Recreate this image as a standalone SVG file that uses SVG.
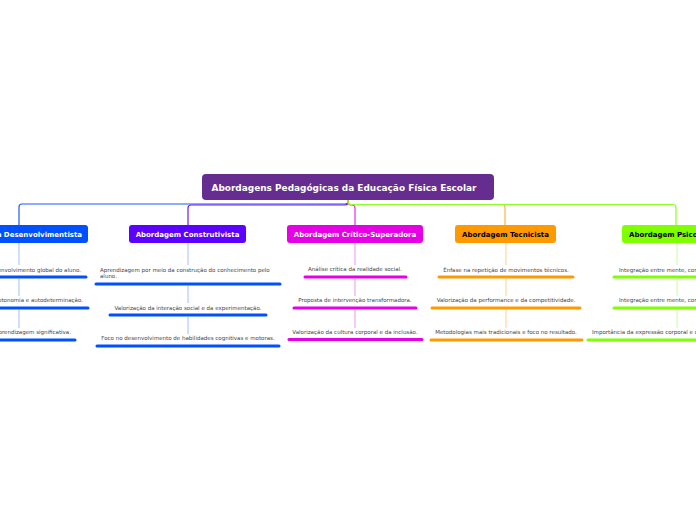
<svg xmlns="http://www.w3.org/2000/svg" width="696" height="520" viewBox="0 0 696 520">
<style>
.root{fill:#662d91}
.rt{font-family:"DejaVu Sans",Verdana,sans-serif;font-weight:bold;font-size:8.95px;fill:#fff}
.mt{font-family:"DejaVu Sans",Verdana,sans-serif;font-weight:bold;font-size:7px}
.st{font-family:"DejaVu Sans",Verdana,sans-serif;font-size:5.5px;fill:#444}
.ul{stroke-width:3;stroke-linecap:round;fill:none}
.cn{fill:none;stroke-width:1.2}
.vc{fill:none;stroke-width:1.2}
</style>
<rect width="696" height="520" fill="#fff"/>
<g id="connectors">
<path class="cn" stroke="#1f5bff" d="M348,199 V201.5 Q348,204 345,204 H22 Q19,204 19,207 V225"/>
<path class="cn" stroke="#6a1cff" d="M348,199 V202 Q348,205 345,205 H191 Q188,205 188,208 V225"/>
<path class="cn" stroke="#e62ee6" d="M348,199 V202 Q348,205 351,205 H352 Q355,205 355,208 V225"/>
<path class="cn" stroke="#ffb347" d="M348,199 V201.5 Q348,204.5 351,204.5 H502 Q505,204.5 505,207.5 V225"/>
<path class="cn" stroke="#8cff26" d="M348,199 V201.5 Q348,204.5 351,204.5 H673 Q676,204.5 676,207.5 V225"/>
<g stroke="#b3c9ff" class="vc">
<path d="M19,243 V265 M19,279 V296 M19,310 V328"/>
<path d="M188,243 V265 M188,286 V303 M188,317 V334"/>
</g>
<g stroke="#f2a6f2" class="vc"><path d="M355,243 V265 M355,279 V296 M355,310 V328"/></g>
<g stroke="#ffd9a3" class="vc"><path d="M506,243 V265 M506,279 V296 M506,310 V328"/></g>
<g stroke="#d6ffb3" class="vc"><path d="M677,243 V265 M677,279 V296 M677,310 V328"/></g>
</g>
<g id="root">
<rect class="root" x="202" y="174" width="292" height="26" rx="4"/>
<text class="rt" x="344" y="190.5" text-anchor="middle">Abordagens Pedagógicas da Educação Física Escolar</text>
</g>
<g id="desenvolvimentista">
<rect x="-50" y="225" width="138" height="18" rx="3" fill="#0050ff"/>
<text class="mt" x="19" y="236.5" text-anchor="middle" fill="#fff">Abordagem Desenvolvimentista</text>
<text class="st" x="81" y="271.5" text-anchor="end">Promoção do desenvolvimento global do aluno.</text>
<line class="ul" stroke="#0050ff" x1="-49" y1="277" x2="86" y2="277"/>
<text class="st" x="83" y="302" text-anchor="end">Estímulo à autonomia e autodeterminação.</text>
<line class="ul" stroke="#0050ff" x1="-51" y1="308" x2="88" y2="308"/>
<text class="st" x="71" y="334" text-anchor="end">Ênfase na aprendizagem significativa.</text>
<line class="ul" stroke="#0050ff" x1="-38" y1="340" x2="75" y2="340"/>
</g>
<g id="construtivista">
<rect x="129" y="225" width="117" height="18" rx="3" fill="#5c00ff"/>
<text class="mt" x="187.5" y="236.5" text-anchor="middle" fill="#fff">Abordagem Construtivista</text>
<text class="st" x="100" y="271.5">Aprendizagem por meio da construção do conhecimento pelo</text>
<text class="st" x="100" y="277.8">aluno.</text>
<line class="ul" stroke="#0050ff" x1="96" y1="284" x2="280" y2="284"/>
<text class="st" x="188" y="309.5" text-anchor="middle">Valorização da interação social e da experimentação.</text>
<line class="ul" stroke="#0050ff" x1="110" y1="315" x2="266" y2="315"/>
<text class="st" x="188" y="340" text-anchor="middle">Foco no desenvolvimento de habilidades cognitivas e motoras.</text>
<line class="ul" stroke="#0050ff" x1="97" y1="346" x2="279" y2="346"/>
</g>
<g id="critico-superadora">
<rect x="287" y="225" width="136" height="18" rx="3" fill="#e600e6"/>
<text class="mt" x="355" y="236.5" text-anchor="middle" fill="#fff">Abordagem Crítico-Superadora</text>
<text class="st" x="355" y="271" text-anchor="middle">Análise crítica da realidade social.</text>
<line class="ul" stroke="#e600e6" x1="305" y1="277" x2="406" y2="277"/>
<text class="st" x="355" y="302" text-anchor="middle">Proposta de intervenção transformadora.</text>
<line class="ul" stroke="#e600e6" x1="294" y1="308" x2="416" y2="308"/>
<text class="st" x="355" y="333.5" text-anchor="middle">Valorização da cultura corporal e da inclusão.</text>
<line class="ul" stroke="#e600e6" x1="289" y1="339.5" x2="422" y2="339.5"/>
</g>
<g id="tecnicista">
<rect x="455" y="225" width="101" height="18" rx="3" fill="#ff9900"/>
<text class="mt" x="505.5" y="236.5" text-anchor="middle" fill="#000">Abordagem Tecnicista</text>
<text class="st" x="506" y="271.5" text-anchor="middle">Ênfase na repetição de movimentos técnicos.</text>
<line class="ul" stroke="#ff9900" x1="439" y1="277" x2="573" y2="277"/>
<text class="st" x="506" y="302" text-anchor="middle">Valorização da performance e da competitividade.</text>
<line class="ul" stroke="#ff9900" x1="432" y1="308" x2="580" y2="308"/>
<text class="st" x="506" y="334" text-anchor="middle">Metodologias mais tradicionais e foco no resultado.</text>
<line class="ul" stroke="#ff9900" x1="431" y1="340" x2="582" y2="340"/>
</g>
<g id="psicomotora">
<rect x="622" y="225" width="108" height="18" rx="3" fill="#80ff00"/>
<text class="mt" x="629" y="236.5" fill="#000">Abordagem Psicomotora</text>
<text class="st" x="619" y="271.5">Integração entre mente, corpo e emoções.</text>
<line class="ul" stroke="#80ff00" x1="614" y1="277" x2="740" y2="277"/>
<text class="st" x="619" y="302">Integração entre mente, corpo e movimento.</text>
<line class="ul" stroke="#80ff00" x1="614" y1="308" x2="740" y2="308"/>
<text class="st" x="592" y="334">Importância da expressão corporal e do movimento.</text>
<line class="ul" stroke="#80ff00" x1="588" y1="340" x2="740" y2="340"/>
</g>
</svg>
